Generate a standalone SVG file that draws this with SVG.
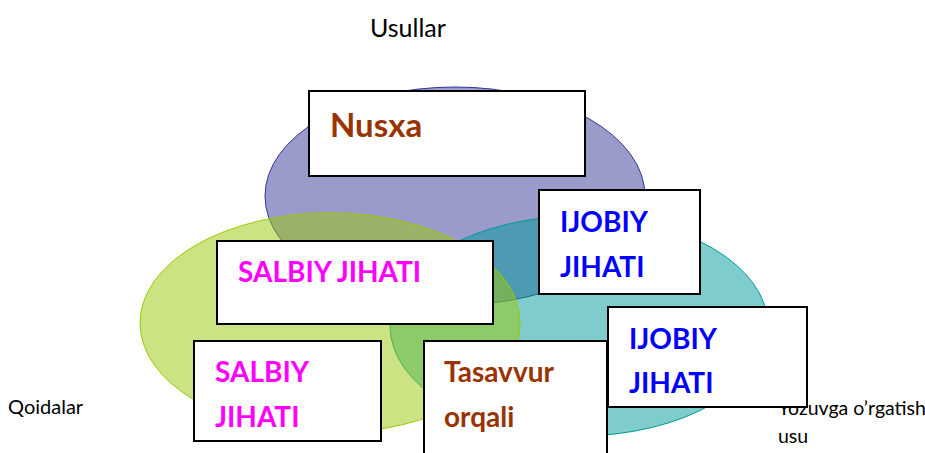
<svg xmlns="http://www.w3.org/2000/svg" width="925" height="453" viewBox="0 0 925 453">
<style>
.lbl{font-family:Lato,"Open Sans","Liberation Sans",sans-serif;fill:#000;font-size:19.5px}
.bt{font-family:Lato,"Open Sans","Liberation Sans",sans-serif;font-weight:bold;font-size:28px}
.box{fill:#fff;stroke:#000;stroke-width:2}
.brown{fill:#993300}.blue{fill:#0000ff}.mag{fill:#ff00ff}
</style>
<rect width="925" height="453" fill="#fff"/>
<g id="circles">
<ellipse id="purple" cx="455" cy="196" rx="190" ry="109" fill="#373797" fill-opacity="0.5" stroke="#333399" stroke-width="1"/>
<ellipse id="teal" cx="579" cy="326" rx="189" ry="110" fill="#009999" fill-opacity="0.5" stroke="#009999" stroke-width="1"/>
<ellipse id="green" cx="330" cy="323" rx="190" ry="110" fill="#99c707" fill-opacity="0.5" stroke="#99cc00" stroke-width="1"/>
</g>
<g id="labels">
<text class="lbl" x="370" y="37" style="font-size:25px">Usullar</text>
<text class="lbl" x="8" y="414" style="font-size:20px">Qoidalar</text>
<text class="lbl" x="778" y="415">Yozuvga o’rgatish</text>
<text class="lbl" x="778" y="443">usu</text>
</g>
<g id="connectors"></g>
<g id="n-nusxa">
<rect class="box" x="309" y="91" width="276" height="85"/>
<text class="bt brown" x="330" y="137" style="font-size:33px">Nusxa</text>
</g>
<g id="n-ijobiy1">
<rect class="box" x="539" y="190" width="161" height="104"/>
<text class="bt blue" x="560" y="232">IJOBIY</text>
<text class="bt blue" x="560" y="277">JIHATI</text>
</g>
<g id="n-salbiy1">
<rect class="box" x="217" y="241" width="276" height="83"/>
<text class="bt mag" x="238" y="282">SALBIY JIHATI</text>
</g>
<g id="n-salbiy2">
<rect class="box" x="194" y="341" width="187" height="100"/>
<text class="bt mag" x="215" y="382">SALBIY</text>
<text class="bt mag" x="215" y="427">JIHATI</text>
</g>
<g id="n-tasavvur">
<rect class="box" x="424" y="341" width="183" height="130"/>
<text class="bt brown" x="444" y="382">Tasavvur</text>
<text class="bt brown" x="444" y="427">orqali</text>
</g>
<g id="n-ijobiy2">
<rect class="box" x="608" y="307" width="199" height="100"/>
<text class="bt blue" x="629" y="349">IJOBIY</text>
<text class="bt blue" x="629" y="393">JIHATI</text>
</g>
</svg>
